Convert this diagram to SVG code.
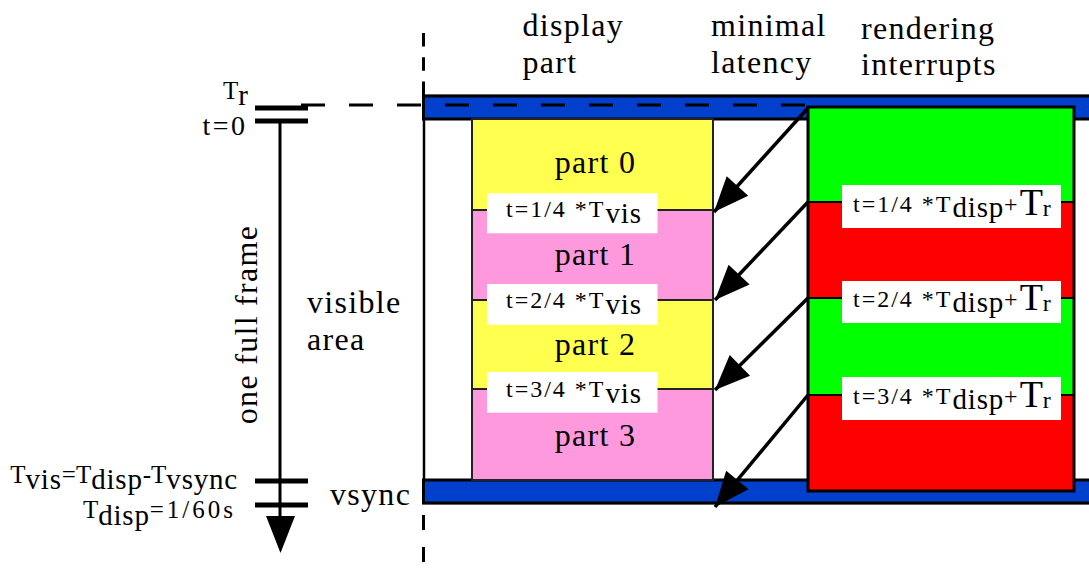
<svg xmlns="http://www.w3.org/2000/svg" width="1089" height="575" viewBox="0 0 1089 575">
<style>
text{font-family:"Liberation Serif","Times New Roman",serif;fill:#000}
.big{font-size:32px;letter-spacing:1.3px}
.m{font-size:24px;letter-spacing:2px}
.s{font-size:29px;letter-spacing:0.8px}
.T{font-size:25px}
.bar{fill:#0040cc;stroke:#000;stroke-width:3}
.tick{fill:#000}
.lbl{fill:#fff}
.arr{stroke:#000;stroke-width:3.5;fill:none;marker-end:url(#ah)}
.dash{stroke:#000;stroke-width:3;fill:none}
</style>
<defs>
<marker id="ah" markerUnits="userSpaceOnUse" markerWidth="37" markerHeight="31" viewBox="0 0 37 31" refX="35.5" refY="15.5" orient="auto">
<path d="M0.5,1 L35.5,15.5 L0.5,30 Z" fill="#000"/>
</marker>
</defs>
<rect width="1089" height="575" fill="#fff"/>

<g id="timeline">
<line x1="423.5" y1="33" x2="423.5" y2="96" class="dash" stroke-dasharray="13.5 10.8"/>
<line x1="423.5" y1="515" x2="423.5" y2="575" class="dash" stroke-dasharray="15 17"/>
<line x1="280" y1="121" x2="280" y2="520" stroke="#000" stroke-width="3"/>
<polygon points="266,516 295,516 280.5,553" fill="#000"/>
<rect class="tick" x="255" y="105.5" width="53" height="5"/>
<rect class="tick" x="255" y="118.5" width="53" height="5"/>
<rect class="tick" x="255" y="478.5" width="53" height="5"/>
<rect class="tick" x="255" y="502.5" width="53" height="5"/>
<text x="248" y="99" text-anchor="end"><tspan class="T">T</tspan><tspan font-size="29px" dy="6">r</tspan></text>
<text x="247.5" y="135" text-anchor="end" font-size="28px" letter-spacing="2.5px">t=0</text>
<text x="238" y="483" text-anchor="end"><tspan class="T">T</tspan><tspan class="s" dy="6">vis</tspan><tspan class="T" dy="-6">=T</tspan><tspan class="s" dy="6">disp</tspan><tspan class="T" dy="-6">-T</tspan><tspan class="s" dy="6">vsync</tspan></text>
<text x="236" y="518" text-anchor="end"><tspan class="T">T</tspan><tspan class="s" dy="7">disp</tspan><tspan class="T" dy="-7" letter-spacing="3px">=1/60s</tspan></text>
<text transform="translate(257,324.5) rotate(-90)" text-anchor="middle" class="big">one full frame</text>
<text x="307" y="313" class="big">visible</text>
<text x="307" y="350" class="big">area</text>
<text x="330" y="505" class="big">vsync</text>
</g>

<g id="frame">
<rect x="424" y="96" width="700" height="407" fill="#fff" stroke="#000" stroke-width="2.5"/>
<rect class="bar" x="423.5" y="96" width="700" height="23"/>
<rect class="bar" x="423.5" y="480" width="700" height="23"/>
<line x1="301" y1="105" x2="808" y2="105" class="dash" stroke-dasharray="24 24"/>
</g>

<g id="headers">
<text x="522.5" y="36" class="big">display</text>
<text x="522.5" y="73" class="big">part</text>
<text x="711" y="36" class="big">minimal</text>
<text x="711" y="73" class="big">latency</text>
<text x="861" y="39" class="big">rendering</text>
<text x="861" y="75" class="big">interrupts</text>
</g>

<g id="display-part">
<rect x="472" y="119" width="241" height="91" fill="#ffff50"/>
<rect x="472" y="210" width="241" height="90" fill="#ff99dd"/>
<rect x="472" y="300" width="241" height="89" fill="#ffff50"/>
<rect x="472" y="389" width="241" height="91" fill="#ff99dd"/>
<rect x="472" y="119" width="241" height="361" fill="none" stroke="#222" stroke-width="2"/>
<line x1="472" y1="210" x2="713" y2="210" stroke="#222" stroke-width="2"/>
<line x1="472" y1="300" x2="713" y2="300" stroke="#222" stroke-width="2"/>
<line x1="472" y1="389" x2="713" y2="389" stroke="#222" stroke-width="2"/>
<text x="595.5" y="173" text-anchor="middle" class="big">part 0</text>
<text x="595.5" y="265" text-anchor="middle" class="big">part 1</text>
<text x="595.5" y="355" text-anchor="middle" class="big">part 2</text>
<text x="595.5" y="446" text-anchor="middle" class="big">part 3</text>
<rect class="lbl" x="487" y="193.3" width="170.5" height="40"/>
<rect class="lbl" x="487" y="284" width="170.5" height="40.7"/>
<rect class="lbl" x="487" y="372" width="170.5" height="40.7"/>
<text x="506" y="217.3"><tspan class="m">t=1/4 *T</tspan><tspan class="s" dy="6">vis</tspan></text>
<text x="506" y="308.3"><tspan class="m">t=2/4 *T</tspan><tspan class="s" dy="6">vis</tspan></text>
<text x="506" y="396.5"><tspan class="m">t=3/4 *T</tspan><tspan class="s" dy="6">vis</tspan></text>
</g>

<g id="rendering-interrupts">
<rect x="808" y="107" width="266" height="95" fill="#00ff00"/>
<rect x="808" y="202" width="266" height="96" fill="#ff0000"/>
<rect x="808" y="298" width="266" height="97" fill="#00ff00"/>
<rect x="808" y="395" width="266" height="96" fill="#ff0000"/>
<rect x="808" y="107" width="266" height="384" fill="none" stroke="#000" stroke-width="3"/>
<line x1="808" y1="202" x2="1074" y2="202" stroke="#000" stroke-width="2"/>
<line x1="808" y1="298" x2="1074" y2="298" stroke="#000" stroke-width="2"/>
<line x1="808" y1="395" x2="1074" y2="395" stroke="#000" stroke-width="2"/>
<rect class="lbl" x="842" y="185" width="219" height="43"/>
<rect class="lbl" x="842" y="281" width="219" height="42"/>
<rect class="lbl" x="842" y="377" width="219" height="43"/>
<text x="853" y="211.7"><tspan class="m">t=1/4 *T</tspan><tspan class="s" dy="5.5">disp</tspan><tspan class="m" dy="-5.5" letter-spacing="0">+</tspan><tspan font-size="38px" dy="3.3">T</tspan><tspan font-size="24px" dy="0.5">r</tspan></text>
<text x="853" y="306.9"><tspan class="m">t=2/4 *T</tspan><tspan class="s" dy="5.5">disp</tspan><tspan class="m" dy="-5.5" letter-spacing="0">+</tspan><tspan font-size="38px" dy="3.3">T</tspan><tspan font-size="24px" dy="0.5">r</tspan></text>
<text x="853" y="403.9"><tspan class="m">t=3/4 *T</tspan><tspan class="s" dy="5.5">disp</tspan><tspan class="m" dy="-5.5" letter-spacing="0">+</tspan><tspan font-size="38px" dy="3.3">T</tspan><tspan font-size="24px" dy="0.5">r</tspan></text>
</g>

<g id="connectors">
<line class="arr" x1="808" y1="108" x2="714" y2="212"/>
<line class="arr" x1="808" y1="202" x2="715" y2="300"/>
<line class="arr" x1="808" y1="298" x2="715" y2="390"/>
<line class="arr" x1="808" y1="395" x2="715" y2="507"/>
</g>
</svg>
